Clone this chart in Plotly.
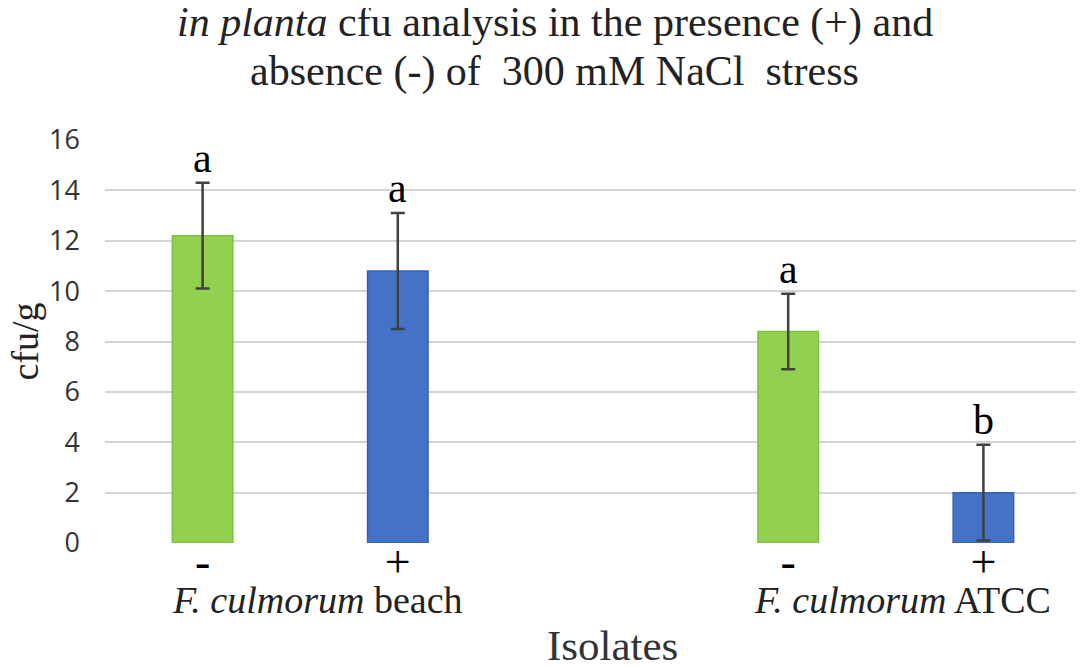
import plotly.graph_objects as go

# isolate groups and treatment (+/- NaCl)
groups = ["<i>F. culmorum</i> beach", "<i>F. culmorum</i> ATCC"]
treatments = ["-", "+", "-", "+"]
positions = [0, 1, 3, 4]
cfu = [12.2, 10.8, 8.4, 2.0]
cfu_err = [2.1, 2.3, 1.5, 1.9]
letters = ["a", "a", "a", "b"]
colors = ["#92d050", "#4472c4", "#92d050", "#4472c4"]
edges = ["#7cc13e", "#3763b4", "#7cc13e", "#3763b4"]
title_lines = ["<i>in planta</i> cfu analysis in the presence (+) and",
               "absence (-) of  300 mM NaCl  stress"]

serif = "Liberation Serif, Times New Roman, serif"

fig = go.Figure()
fig.add_trace(go.Bar(
    x=positions, y=cfu, width=0.31,
    marker=dict(color=colors, line=dict(color=edges, width=1.5)),
    error_y=dict(type="data", array=cfu_err, color="#404040", thickness=2.5, width=7),
    showlegend=False,
))

for x, y, e, t in zip(positions, cfu, cfu_err, letters):
    fig.add_annotation(x=x, y=y + e, text=t, showarrow=False, yanchor="bottom", yshift=0,
                       font=dict(family=serif, size=42, color="black"))

group_x = [(positions[0] + positions[1]) / 2, (positions[2] + positions[3]) / 2]
for gx, g in zip(group_x, groups):
    fig.add_annotation(x=gx, xref="x", y=0, yref="paper", text=g, showarrow=False,
                       yanchor="middle", yshift=-57, xshift=17,
                       font=dict(family=serif, size=38, color="#222"))

fig.add_annotation(x=0.5, xref="paper", y=0, yref="paper", text="Isolates", showarrow=False,
                   yanchor="middle", yshift=-102, xshift=19,
                   font=dict(family=serif, size=43, color="#333"))
fig.add_annotation(x=0, xref="paper", y=0.5, yref="paper", text="cfu/g", showarrow=False,
                   textangle=-90, xanchor="center", xshift=-81,
                   font=dict(family=serif, size=38, color="#222"))

for line, shift in zip(title_lines, [118, 69]):
    fig.add_annotation(x=0.461, xref="paper", y=1, yref="paper", text=line, showarrow=False,
                       xanchor="center", yanchor="middle", yshift=shift,
                       font=dict(family=serif, size=42, color="#222"))

# page body adds an 8px offset, so the figure is drawn 8px smaller
fig.update_layout(
    width=1076, height=660,
    margin=dict(l=97, r=3, t=132, b=125),
    paper_bgcolor="white", plot_bgcolor="white",
)
fig.update_xaxes(range=[-0.5, 4.5], tickvals=positions, ticktext=treatments,
                 showgrid=False, zeroline=False, showline=False, ticks="",
                 ticklabelstandoff=-13,
                 tickfont=dict(family=serif, size=46, color="black"))
fig.update_yaxes(range=[0, 16], dtick=2, showgrid=True, gridcolor="#d4d4d4", gridwidth=2,
                 zeroline=False, showline=False, ticklabelstandoff=24,
                 tickfont=dict(family="Open Sans, sans-serif", size=27, color="#333"))

fig.write_html("out.html")
